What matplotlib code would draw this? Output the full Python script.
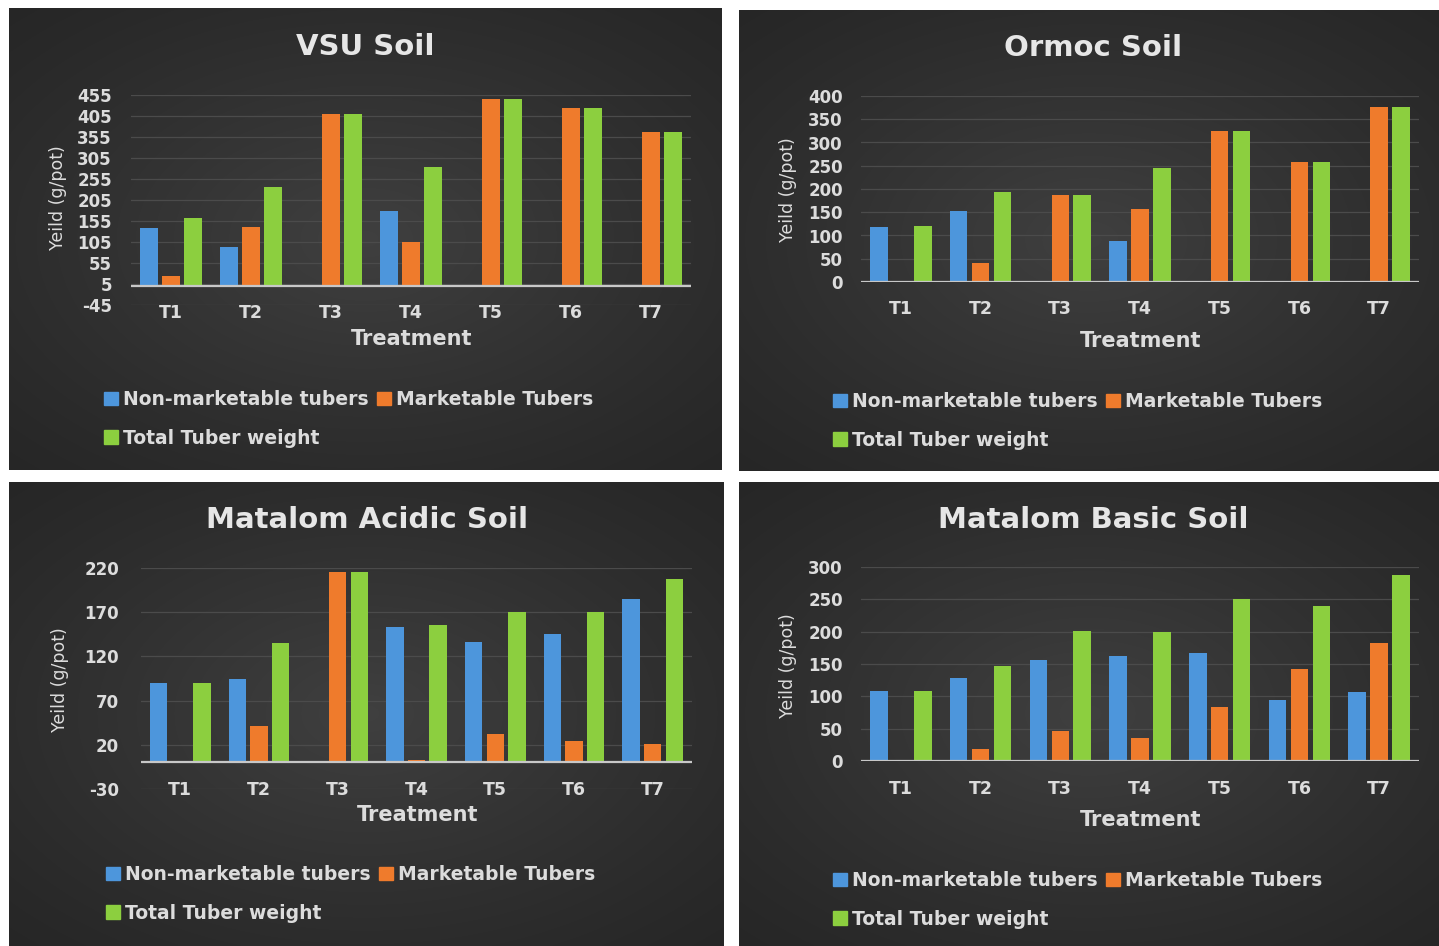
import numpy as np
import matplotlib
matplotlib.use("Agg")
import matplotlib.pyplot as plt
from matplotlib.patches import Patch

# ---- data -------------------------------------------------------------
categories = ["T1", "T2", "T3", "T4", "T5", "T6", "T7"]

vsu_nonmkt = [139, 94, 0, 179, 0, 0, 0]
vsu_mkt = [24, 141, 410, 104, 445, 425, 368]
vsu_total = [163, 235, 410, 283, 445, 425, 368]

ormoc_nonmkt = [119, 152, 0, 88, 0, 0, 0]
ormoc_mkt = [0, 40, 187, 156, 325, 257, 377]
ormoc_total = [120, 194, 187, 246, 325, 257, 377]

acid_nonmkt = [90, 95, 0, 153, 136, 145, 185]
acid_mkt = [0, 41, 216, 3, 32, 24, 21]
acid_total = [90, 135, 216, 156, 170, 170, 207]

basic_nonmkt = [109, 128, 156, 163, 167, 95, 106]
basic_mkt = [0, 18, 47, 36, 83, 142, 182]
basic_total = [109, 147, 201, 200, 250, 240, 288]

series_names = ["Non-marketable tubers", "Marketable Tubers", "Total Tuber weight"]
series_colors = ["#4d96dc", "#ef7b2c", "#8ccf3f"]

# ---- figure -----------------------------------------------------------
W, H = 1439, 946
DPI = 100
plt.rcParams["font.family"] = ["DejaVu Sans"]
plt.rcParams["axes.unicode_minus"] = False
fig = plt.figure(figsize=(W / DPI, H / DPI), dpi=DPI, facecolor="white")

TXT = "#dcdcdc"


def rect(x0, y0, x1, y1):
    """Pixel box (top-left origin) -> figure fraction rect."""
    return [x0 / W, 1 - y1 / H, (x1 - x0) / W, (y1 - y0) / H]


def fx(x):
    return x / W


def fy(y):
    return 1 - y / H


# radial gradient used as the chart-area background
gy, gx = np.mgrid[-1:1:300j, -1:1:400j]
r = np.sqrt((gx / 1.05) ** 2 + (gy / 1.0) ** 2)
grad = np.clip(1 - r / 1.4, 0, 1)
c_edge = np.array([0.15, 0.15, 0.15])
c_mid = np.array([0.25, 0.25, 0.25])
bg_img = c_edge + (c_mid - c_edge) * grad[..., None] ** 1.2

panels = [
    dict(box=(9, 8, 722, 470), title="VSU Soil", title_xy=(365, 47),
         data=(vsu_nonmkt, vsu_mkt, vsu_total),
         plot=(131, 95, 691, 305), ylim=(-45, 455), yticks=range(-45, 456, 50),
         xlab_y=313, ylab_xy=(58, 198), xtitle_xy=(412, 339),
         ytick_right=112, legend_xy=(104, 399)),
    dict(box=(739, 10, 1439, 471), title="Ormoc Soil", title_xy=(1093, 48),
         data=(ormoc_nonmkt, ormoc_mkt, ormoc_total),
         plot=(861, 96, 1419, 282), ylim=(0, 400), yticks=range(0, 401, 50),
         xlab_y=309, ylab_xy=(788, 190), xtitle_xy=(1141, 341),
         ytick_right=843, legend_xy=(833, 401)),
    dict(box=(9, 482, 724, 946), title="Matalom Acidic Soil", title_xy=(367, 520),
         data=(acid_nonmkt, acid_mkt, acid_total),
         plot=(141, 568, 692, 789), ylim=(-30, 220), yticks=range(-30, 221, 50),
         xlab_y=790, ylab_xy=(60, 680), xtitle_xy=(418, 815),
         ytick_right=119, legend_xy=(106, 874)),
    dict(box=(739, 482, 1439, 946), title="Matalom Basic Soil", title_xy=(1093, 520),
         data=(basic_nonmkt, basic_mkt, basic_total),
         plot=(861, 567, 1419, 761), ylim=(0, 300), yticks=range(0, 301, 50),
         xlab_y=789, ylab_xy=(788, 666), xtitle_xy=(1141, 820),
         ytick_right=843, legend_xy=(833, 880)),
]

x = np.arange(len(categories))
bw = 0.22
offs = [-0.275, 0.0, 0.275]

for p in panels:
    # chart background
    bax = fig.add_axes(rect(*p["box"]), zorder=0)
    bax.imshow(bg_img, aspect="auto", extent=(0, 1, 0, 1), interpolation="bilinear")
    bax.set_axis_off()

    ax = fig.add_axes(rect(*p["plot"]), zorder=2)
    ax.set_facecolor("none")
    for vals, off, col in zip(p["data"], offs, series_colors):
        ax.bar(x + off, vals, width=bw, color=col, edgecolor="none", zorder=3)

    ax.set_xlim(-0.5, len(categories) - 0.5)
    ax.set_ylim(*p["ylim"])
    ax.set_yticks(list(p["yticks"]))
    ax.grid(axis="y", color="#4b4b4b", linewidth=0.9, zorder=1)
    ax.axhline(0, color="#c8c8c8", linewidth=1.6, zorder=4)
    for s in ax.spines.values():
        s.set_visible(False)

    # y tick labels
    px0, py0, px1, py1 = p["plot"]
    pad_y = (px0 - p["ytick_right"]) * 72 / DPI
    ax.tick_params(axis="y", length=0, pad=pad_y, labelsize=12, labelcolor=TXT)
    for t in ax.get_yticklabels():
        t.set_fontweight("bold")

    # category labels
    ax.set_xticks(x)
    ax.set_xticklabels([])
    ax.tick_params(axis="x", length=0)
    for i, c in enumerate(categories):
        xc = px0 + (i + 0.5) * (px1 - px0) / len(categories)
        fig.text(fx(xc), fy(p["xlab_y"]), c, ha="center", va="center",
                 fontsize=12.5, fontweight="bold", color=TXT, zorder=5)

    # titles and axis titles
    fig.text(fx(p["title_xy"][0]), fy(p["title_xy"][1]), p["title"], ha="center",
             va="center", fontsize=21, fontweight="bold", color="#e6e6e6", zorder=5)
    fig.text(fx(p["xtitle_xy"][0]), fy(p["xtitle_xy"][1]), "Treatment", ha="center",
             va="center", fontsize=15, fontweight="bold", color=TXT, zorder=5)
    fig.text(fx(p["ylab_xy"][0]), fy(p["ylab_xy"][1]), "Yeild (g/pot)", ha="center",
             va="center", rotation=90, fontsize=12.5, color=TXT, zorder=5)

    # legend: first row two entries, second row the total
    handles = [Patch(color=series_colors[0]), Patch(color=series_colors[2]),
               Patch(color=series_colors[1])]
    labels = [series_names[0], series_names[2], series_names[1]]
    lx, ly = p["legend_xy"]
    leg = fig.legend(handles, labels, ncol=2, loc="center left",
                     bbox_to_anchor=(fx(lx), fy(ly + 20)), frameon=False,
                     handlelength=0.75, handleheight=0.75, handletextpad=0.25,
                     columnspacing=0.45, labelspacing=1.05, borderpad=0,
                     borderaxespad=0,
                     prop=dict(size=13.5, weight="bold"))
    for t in leg.get_texts():
        t.set_color(TXT)
    leg.set_zorder(6)

fig.savefig("out.png", dpi=DPI, facecolor="white")
